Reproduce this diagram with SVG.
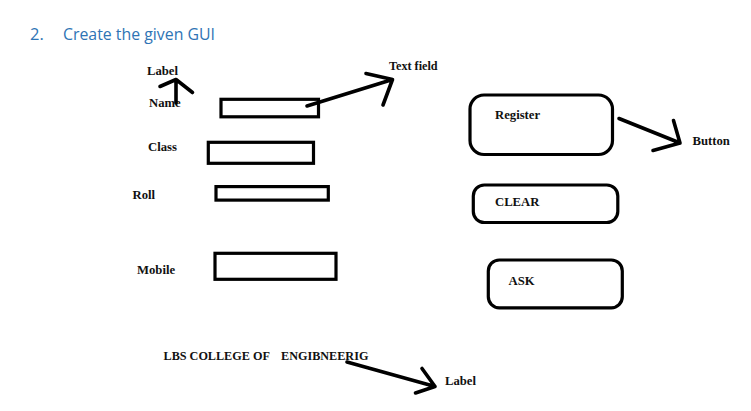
<svg xmlns="http://www.w3.org/2000/svg" width="751" height="411" viewBox="0 0 751 411">
<style>
.lbl{font-family:"Liberation Serif","Times New Roman",serif;font-weight:bold;font-size:12.7px;fill:#111}
.sm{font-size:12.2px}
.head{font-family:"Open Sans","Noto Sans",sans-serif;font-size:16.5px;fill:#2E74B5}
.box{fill:#fff;stroke:#000;stroke-width:3.2}
.arr{fill:none;stroke:#000;stroke-width:3.6;stroke-linecap:round;stroke-linejoin:round}
</style>
<rect width="751" height="411" fill="#fff"/>
<g id="heading">
<text class="head" x="30" y="40">2.</text>
<text class="head" x="63" y="40" textLength="152" lengthAdjust="spacingAndGlyphs">Create the given GUI</text>
</g>
<g id="label-top"><text class="lbl" x="147" y="75">Label</text></g>
<g id="label-name"><text class="lbl" x="149" y="107">Name</text></g>
<g id="field-name"><rect class="box" x="221" y="99.3" width="97.5" height="17.5"/></g>
<g id="text-field-label"><text class="lbl sm" x="389" y="70">Text field</text></g>
<g id="label-class"><text class="lbl" x="148" y="151">Class</text></g>
<g id="field-class"><rect class="box" x="208.3" y="142.3" width="105.2" height="21"/></g>
<g id="label-roll"><text class="lbl" x="132.5" y="199">Roll</text></g>
<g id="field-roll"><rect class="box" x="216" y="186.6" width="112.3" height="13.5"/></g>
<g id="label-mobile"><text class="lbl" x="137" y="274">Mobile</text></g>
<g id="field-mobile"><rect class="box" x="215" y="253.3" width="121" height="26"/></g>
<g id="btn-register"><rect class="box" x="470" y="95" width="142.5" height="59.5" rx="14"/><text class="lbl" x="495" y="119">Register</text></g>
<g id="button-label"><text class="lbl" x="692.5" y="145">Button</text></g>
<g id="btn-clear"><rect class="box" x="473.3" y="185" width="144.5" height="37.5" rx="11"/><text class="lbl" x="495" y="206">CLEAR</text></g>
<g id="btn-ask"><rect class="box" x="488.3" y="260" width="134" height="47.8" rx="11"/><text class="lbl" x="508.5" y="285">ASK</text></g>
<g id="college"><text class="lbl sm" x="163.5" y="359.5">LBS COLLEGE OF</text><text class="lbl sm" x="281" y="359.5">ENGIBNEERIG</text></g>
<g id="label-bottom"><text class="lbl" x="445" y="385">Label</text></g>
<g id="connectors">
<path class="arr" d="M176 103 L176 80 M160 86.5 L176 79.5 L192.5 92.5"/>
<path class="arr" d="M307 106 L392.5 79.5 M366 73.5 L392.5 79.5 L383 105"/>
<path class="arr" d="M619 118.5 L680 143 M673.5 120.5 L680 143 L653 150.5"/>
<path class="arr" d="M347 362 L435 386.5 M422 368.5 L435 386.5 L415.5 393"/>
</g>
</svg>
